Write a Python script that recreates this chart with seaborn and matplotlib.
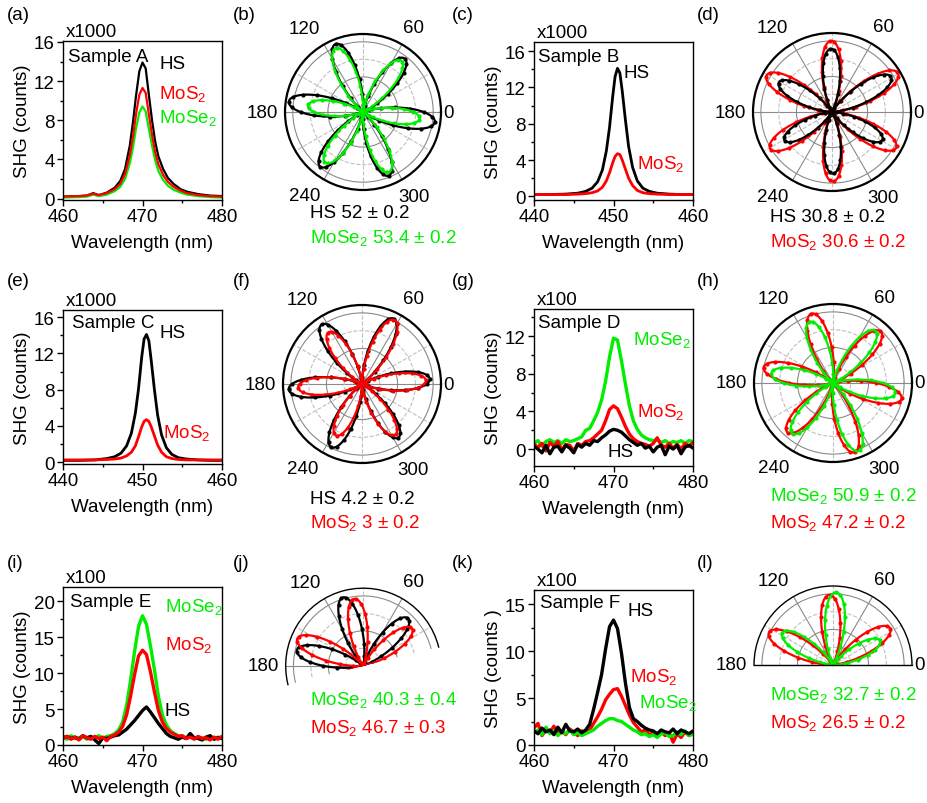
import numpy as np
import matplotlib
matplotlib.use('Agg')
import matplotlib.pyplot as plt
import seaborn as sns
from matplotlib.ticker import MultipleLocator, FixedLocator

sns.set_style('ticks')
plt.rcParams['font.family'] = ['Liberation Sans', 'DejaVu Sans']
plt.rcParams['mathtext.fontset'] = 'custom'
plt.rcParams['mathtext.rm'] = 'Liberation Sans'
plt.rcParams['mathtext.it'] = 'Liberation Sans:italic'
plt.rcParams['mathtext.bf'] = 'Liberation Sans:bold'
for key in ('text.color', 'axes.labelcolor', 'xtick.color', 'ytick.color', 'axes.edgecolor'):
    plt.rcParams[key] = 'black'

BLACK, RED, GREEN = '#000000', '#ff0000', '#00ee00'
FS = 13.5
MOS2 = r'MoS$_\mathrm{2}$'
MOSE2 = r'MoSe$_\mathrm{2}$'

# ---------------- spectra data ----------------
wl_A = [460, 462, 463, 463.8, 464.5, 465.5, 466.5, 467.2, 467.8, 468.4, 468.8, 469.2, 469.6, 470.0,
        470.4, 470.8, 471.2, 471.6, 472.0, 472.6, 473.2, 473.9, 474.8, 475.6, 477, 478.5, 480]
hs_A = [0.2, 0.25, 0.3, 0.55, 0.35, 0.6, 1.1, 1.8, 3.0, 5.4, 7.8, 10.6, 13.0, 13.9,
        13.3, 10.6, 8.0, 5.8, 4.3, 3.0, 2.1, 1.5, 0.95, 0.7, 0.45, 0.3, 0.25]
mos2_A = [0.2, 0.25, 0.3, 0.5, 0.35, 0.55, 0.95, 1.5, 2.5, 4.4, 6.3, 8.7, 10.6, 11.3,
          10.8, 8.6, 6.5, 4.7, 3.5, 2.4, 1.7, 1.2, 0.8, 0.55, 0.35, 0.25, 0.2]
mose2_A = [0.1, 0.15, 0.2, 0.4, 0.25, 0.4, 0.75, 1.2, 2.0, 3.6, 5.2, 7.2, 8.8, 9.4,
           8.9, 7.1, 5.4, 3.9, 2.8, 1.9, 1.3, 0.9, 0.6, 0.4, 0.25, 0.15, 0.1]

wl_B = [440, 442, 444, 445.5, 446.5, 447.3, 448, 448.6, 449.1, 449.5, 449.9, 450.2, 450.5,
        450.8, 451.1, 451.5, 451.9, 452.4, 453, 453.7, 454.5, 455.5, 457, 458.5, 460]
hs_B = [0.2, 0.2, 0.25, 0.35, 0.55, 0.9, 1.6, 2.9, 5.0, 7.6, 11.0, 13.2, 14.1,
        13.6, 11.6, 8.4, 5.5, 3.2, 1.7, 0.9, 0.55, 0.35, 0.25, 0.2, 0.2]
mos2_B = [0.2, 0.2, 0.2, 0.25, 0.3, 0.4, 0.6, 1.0, 1.7, 2.6, 3.7, 4.4, 4.7,
          4.6, 4.0, 3.0, 2.0, 1.2, 0.65, 0.4, 0.3, 0.25, 0.2, 0.2, 0.2]

wl_C = [440, 442, 444, 445.5, 446.5, 447.3, 448, 448.6, 449.1, 449.5, 449.9, 450.2, 450.5,
        450.8, 451.1, 451.5, 451.9, 452.4, 453, 453.7, 454.5, 455.5, 457, 458.5, 460]
hs_C = [0.2, 0.2, 0.25, 0.4, 0.6, 1.0, 1.8, 3.2, 5.4, 8.1, 11.6, 13.6, 14.1,
        13.4, 11.2, 8.0, 5.2, 3.0, 1.6, 0.85, 0.5, 0.35, 0.25, 0.2, 0.2]
mos2_C = [0.25, 0.25, 0.25, 0.3, 0.35, 0.45, 0.7, 1.1, 1.8, 2.8, 3.9, 4.5, 4.7,
          4.5, 3.9, 2.9, 1.9, 1.1, 0.6, 0.4, 0.3, 0.25, 0.25, 0.25, 0.25]

wl_noisy = np.arange(460, 480.01, 0.5)   # 41 sampling wavelengths (nm)

mose2_D = [0.6, 0.9, 0.3, 0.8, 1.0, 0.7, 0.9, 0.6, 1.0, 0.8, 0.9, 1.1, 1.3, 2.0, 2.2, 3.0, 3.9,
           5.2, 7.2, 9.8, 11.8, 11.6, 9.4, 6.9, 4.6, 3.0, 2.1, 1.5, 1.2, 1.0, 0.9, 1.0, 0.7,
           0.9, 0.6, 0.8, 0.7, 0.9, 0.6, 0.9, 0.8]
mos2_D = [0.5, 0.2, 0.6, -0.2, 0.7, 0.3, 0.8, -0.1, 0.5, 0.4, -0.2, 0.6, 0.4, 0.8, 0.9, 1.2, 1.6,
          2.0, 3.0, 4.2, 4.6, 4.3, 3.4, 2.4, 1.6, 1.1, 0.8, 0.6, 0.5, 0.3, 0.6, 1.2, 0.4,
          0.2, 0.6, 0.1, 0.5, 0.0, 0.6, 0.3, 0.7]
hs_D = [0.3, 0.0, -0.4, 0.4, -0.5, 0.2, 0.3, -0.3, 0.4, 0.1, -0.4, 0.5, 0.2, 0.6, 0.4, 0.9, 0.8,
        1.2, 1.5, 1.9, 2.1, 2.0, 1.8, 1.4, 1.0, 0.7, 0.4, 0.6, 0.1, 0.3, -0.3, 0.2, 0.4,
        -0.6, 0.3, 0.0, 0.4, -0.5, 0.2, 0.4, 0.1]

mose2_E = [1.1, 0.8, 1.3, 0.9, 1.0, 1.2, 0.8, 1.1, 1.0, 1.3, 0.9, 1.2, 1.3, 1.6, 2.1, 3.2, 5.5,
           9.0, 13.0, 16.5, 18.0, 16.8, 13.8, 10.5, 6.8, 4.2, 2.8, 2.0, 1.6, 1.3, 1.2, 1.0, 1.3,
           0.9, 1.1, 1.0, 0.8, 1.2, 0.9, 1.1, 1.0]
mos2_E = [0.9, 1.2, 0.8, 1.1, 0.7, 1.3, 1.0, 0.8, 1.2, 0.9, 1.1, 0.6, 1.2, 1.4, 1.8, 2.6, 4.2,
          6.8, 9.8, 12.4, 13.2, 12.6, 10.2, 7.4, 4.8, 3.2, 2.3, 1.8, 1.5, 1.2, 1.3, 0.9, 1.1,
          0.8, 1.2, 0.9, 1.0, 0.7, 1.1, 0.8, 1.2]
hs_E = [1.0, 1.2, 0.9, 1.1, 0.8, 1.3, 1.0, 1.2, 0.7, 0.2, 1.0, 0.9, 1.1, 1.3, 1.4, 1.8, 2.2,
        2.8, 3.4, 4.1, 4.8, 5.3, 4.6, 3.8, 3.0, 2.3, 1.6, 1.2, 1.0, 0.8, 1.1, 0.9, 1.6,
        1.0, 0.9, 0.7, 1.1, 1.3, 0.8, 1.0, 0.9]

hs_F = [1.5, 1.2, 1.8, 1.4, 1.6, 1.1, 1.9, 1.3, 2.2, 1.5, 1.4, 1.7, 1.3, 1.6, 2.2, 3.8, 5.6,
        7.5, 10.2, 12.6, 13.3, 12.4, 9.8, 6.6, 4.0, 2.8, 2.5, 2.1, 1.8, 1.6, 1.5, 1.2, 1.6,
        1.4, 1.3, 1.7, 1.2, 1.6, 1.4, 1.2, 1.5]
mos2_F = [1.8, 2.3, 1.0, 1.6, 1.3, 2.0, 1.2, 1.5, 1.1, 1.7, 1.4, 1.0, 1.5, 1.3, 1.6, 2.3, 3.0,
          3.8, 4.8, 5.4, 5.9, 6.0, 5.2, 4.2, 3.2, 2.4, 1.9, 1.4, 1.6, 1.1, 1.3, 0.9, 1.4,
          1.0, 1.3, 0.3, 1.2, 0.8, 1.4, 1.0, 1.2]
mose2_F = [1.3, 1.6, 1.1, 1.9, 1.2, 1.5, 1.0, 1.4, 1.2, 1.6, 1.1, 1.3, 1.0, 1.2, 1.4, 1.6, 2.0,
           2.3, 2.6, 2.8, 2.8, 2.6, 2.5, 2.2, 1.9, 1.6, 1.4, 1.1, 1.2, 0.9, 1.1, 0.8, 1.2,
           1.3, 0.9, 1.0, 1.4, 1.1, 1.5, 1.0, 1.2]

# ---------------- polar data (orientation angle in deg, lobe amplitudes) ----------------
b_hs_phi, b_hs_amp = 52.0, [0.87, 0.94, 0.96, 0.89, 0.88, 0.93]
b_se_phi, b_se_amp = 53.4, [0.82, 0.89, 0.71, 0.81, 0.84, 0.73]
d_hs_phi, d_hs_amp = 30.8, [0.87, 0.80, 0.77, 0.70, 0.78, 0.73]
d_s_phi, d_s_amp = 30.6, [0.97, 0.90, 0.95, 0.91, 0.88, 0.93]
f_hs_phi, f_hs_amp = 4.2, [0.86, 0.92, 0.91, 0.93, 0.89, 0.82]
f_s_phi, f_s_amp = 3.0, [0.81, 0.91, 0.78, 0.81, 0.73, 0.77]
h_s_phi, h_s_amp = 47.2, [0.89, 0.92, 0.90, 0.85, 0.92, 0.89]
h_se_phi, h_se_amp = 50.9, [0.85, 0.83, 0.79, 0.82, 0.92, 0.80]
j_k_phi, j_k_amp = 46.7, [0.84, 0.92, 0.88, 0.90, 0.90, 0.90]
j_r_phi, j_r_amp = 37.6, [0.79, 0.87, 0.92, 0.90, 0.90, 0.90]
l_r_phi, l_r_amp = 33.0, [0.86, 0.89, 0.91, 0.90, 0.90, 0.90]
l_g_phi, l_g_amp = 27.5, [0.67, 0.92, 0.76, 0.80, 0.80, 0.80]

# angle tick labels of the polar panels and where their centres sit (angle, radius)
theta_labels = ['0', '60', '120', '180', '240', '300']
theta_label_pos = {'0': (0, 1.09), '60': (59, 1.26), '120': (125, 1.31), '180': (180, 1.29),
                   '240': (235, 1.31), '300': (301, 1.26)}

# ---------------- layout helpers ----------------
W, H = 928, 804
fig = plt.figure(figsize=(W / 100, H / 100), dpi=100)


def frac_rect(l, t, r, b):
    return [l / W, 1 - b / H, (r - l) / W, (b - t) / H]


def ftext(x, y, s, color='k', **kw):
    fig.text(x / W, 1 - y / H, s, color=color, fontsize=FS, ha='left', va='center', **kw)


def spectrum(box, xlim, ylim, xmaj, ymaj, ymin, scale, series, labels, ylabel='SHG (counts)'):
    ax = fig.add_axes(frac_rect(*box))
    for x, y, c, lw in series:
        sns.lineplot(x=np.asarray(x, float), y=np.asarray(y, float), color=c, lw=lw, ax=ax,
                     estimator=None, sort=False)
    ax.set_xlim(*xlim)
    ax.set_ylim(*ylim)
    ax.xaxis.set_major_locator(MultipleLocator(xmaj))
    ax.xaxis.set_minor_locator(MultipleLocator(xmaj / 2))
    ax.yaxis.set_major_locator(MultipleLocator(ymaj))
    ax.yaxis.set_minor_locator(MultipleLocator(ymin))
    ax.tick_params(which='major', direction='out', length=4, width=1, labelsize=FS, pad=2,
                   colors='black')
    ax.tick_params(which='minor', direction='out', length=2.5, width=1, colors='black')
    for s in ax.spines.values():
        s.set_visible(True)
        s.set_linewidth(1.0)
        s.set_color('k')
    ax.set_xlabel('Wavelength (nm)', fontsize=FS, labelpad=6, color='black')
    ax.set_ylabel(ylabel, fontsize=FS, labelpad=2, color='black')
    ax.text(0.02, 1.005, scale, transform=ax.transAxes, fontsize=FS, ha='left', va='bottom')
    for x, y, s, c in labels:
        ax.text(x, y, s, color=c, fontsize=FS, ha='left', va='center')
    return ax


def rose(theta_deg, phi, amps):
    rel = (theta_deg - phi) % 360
    k = np.round(rel / 60).astype(int) % 6
    return np.asarray(amps)[k] * np.cos(np.deg2rad(3 * rel)) ** 2


theta_line = np.arange(0, 360.5, 0.5)
theta_pts = np.arange(0, 360, 4.0)


def polar(cx, cy, R, series, t0=0, t1=360, hide_ends=False, outer_lw=1.6):
    a = np.deg2rad(np.linspace(t0, t1, 1441))
    xs = np.concatenate([[0], np.cos(a)])
    ys = np.concatenate([[0], np.sin(a)])
    x0, x1, y0, y1 = xs.min(), xs.max(), ys.min(), ys.max()
    side = max(x1 - x0, y1 - y0)
    mx, my = (x0 + x1) / 2, (y0 + y1) / 2
    left = cx + (mx - side / 2) * R
    top = cy - (my + side / 2) * R
    ax = fig.add_axes(frac_rect(left, top, left + side * R, top + side * R), projection='polar')
    for phi, amp, c in series:
        r_line = rose(theta_line, phi, amp)
        r_pts = rose(theta_pts, phi, amp)
        sns.lineplot(x=np.deg2rad(theta_line), y=r_line, color=c, lw=1.6, ax=ax,
                     estimator=None, sort=False)
        sns.scatterplot(x=np.deg2rad(theta_pts), y=r_pts, color=c, s=9, linewidth=0, ax=ax)
    ax.set_thetamin(t0)
    ax.set_thetamax(t1)
    ax.set_rlim(0, 1)
    major = [m for m in range(0, 360, 60) if t0 <= m <= t1]
    minor = [m for m in range(30, 360, 60) if t0 <= m <= t1]
    ax.set_xticks(np.deg2rad(major))
    ax.set_xticklabels([])
    ax.xaxis.set_minor_locator(FixedLocator(np.deg2rad(minor)))
    ax.set_yticks([0.45, 0.9])
    ax.set_yticklabels([])
    ax.yaxis.set_minor_locator(FixedLocator([0.225, 0.675]))
    ax.grid(True, which='major', color='#8a8a8a', lw=0.8, ls='-')
    ax.grid(True, which='minor', color='#c0c0c0', lw=0.8, ls='--')
    ax.tick_params(axis='x', which='both', direction='in', length=4, width=1, colors='k')
    ax.tick_params(axis='y', which='both', length=0)
    ax.set_xlabel('')
    ax.set_ylabel('')
    for lab in theta_labels:
        ang, rr = theta_label_pos[lab]
        if t0 <= int(lab) <= t1:
            ax.text(np.deg2rad(ang), rr, lab, fontsize=FS, ha='center', va='center',
                    clip_on=False)
    ax.spines['polar'].set_linewidth(outer_lw)
    ax.spines['polar'].set_color('k')
    for k in ('start', 'end'):
        if k in ax.spines:
            if hide_ends:
                ax.spines[k].set_color('none')
                ax.spines[k].set_linewidth(0)
            else:
                ax.spines[k].set_linewidth(1.0)
                ax.spines[k].set_color('k')
    return ax


# ---------------- spectra panels ----------------
spectrum((63, 42, 222, 201), (460, 480), (-0.15, 16.1), 10, 4, 2, 'x1000',
         [(wl_A, hs_A, BLACK, 1.6), (wl_A, mose2_A, GREEN, 1.6), (wl_A, mos2_A, RED, 1.6)],
         [(460.6, 14.5, 'Sample A', BLACK), (472.2, 13.8, 'HS', BLACK),
          (472.1, 10.8, MOS2, RED), (472.1, 8.3, MOSE2, GREEN)])

spectrum((534, 43, 693, 201), (440, 460), (-0.4, 17.0), 10, 4, 2, 'x1000',
         [(wl_B, hs_B, BLACK, 2.0), (wl_B, mos2_B, RED, 2.0)],
         [(440.5, 15.4, 'Sample B', BLACK), (451.3, 13.6, 'HS', BLACK), (453.0, 3.7, MOS2, RED)])

spectrum((63, 311, 222, 465), (440, 460), (-0.2, 16.8), 10, 4, 2, 'x1000',
         [(wl_C, hs_C, BLACK, 2.0), (wl_C, mos2_C, RED, 2.0)],
         [(441.1, 15.4, 'Sample C', BLACK), (452.1, 14.3, 'HS', BLACK), (452.6, 3.3, MOS2, RED)])

spectrum((534, 310, 693, 467), (460, 480), (-1.8, 14.9), 10, 4, 2, 'x100',
         [(wl_noisy, mose2_D, GREEN, 2.4), (wl_noisy, mos2_D, RED, 2.4), (wl_noisy, hs_D, BLACK, 2.4)],
         [(460.5, 13.5, 'Sample D', BLACK), (472.5, 11.7, MOSE2, GREEN),
          (473.0, 4.0, MOS2, RED), (469.3, -0.3, 'HS', BLACK)])

spectrum((63, 588, 222, 746), (460, 480), (0, 22.0), 10, 5, 2.5, 'x100',
         [(wl_noisy, mose2_E, GREEN, 2.4), (wl_noisy, hs_E, BLACK, 2.4), (wl_noisy, mos2_E, RED, 2.4)],
         [(460.9, 20.0, 'Sample E', BLACK), (472.8, 19.3, MOSE2, GREEN),
          (472.8, 14.0, MOS2, RED), (472.8, 4.8, 'HS', BLACK)])

spectrum((534, 591, 693, 746), (460, 480), (0, 16.5), 10, 5, 2.5, 'x100',
         [(wl_noisy, mos2_F, RED, 2.4), (wl_noisy, mose2_F, GREEN, 2.4), (wl_noisy, hs_F, BLACK, 2.4)],
         [(460.75, 15.2, 'Sample F', BLACK), (471.8, 14.3, 'HS', BLACK),
          (472.1, 7.3, MOS2, RED), (473.2, 4.6, MOSE2, GREEN)],
         ylabel='SHG (counts )')

# ---------------- polar panels ----------------
polar(363, 113, 78, [(b_hs_phi, b_hs_amp, BLACK), (b_se_phi, b_se_amp, GREEN)])
polar(832, 113, 79, [(d_s_phi, d_s_amp, RED), (d_hs_phi, d_hs_amp, BLACK)])
polar(362, 385, 79, [(f_hs_phi, f_hs_amp, BLACK), (f_s_phi, f_s_amp, RED)])
polar(833, 384, 79, [(h_s_phi, h_s_amp, RED), (h_se_phi, h_se_amp, GREEN)])
polar(362, 666, 79, [(j_k_phi, j_k_amp, BLACK), (j_r_phi, j_r_amp, RED)], t0=14, t1=194,
      hide_ends=True, outer_lw=1.0)
polar(833, 666, 79, [(l_r_phi, l_r_amp, RED), (l_g_phi, l_g_amp, GREEN)], t0=0, t1=180,
      outer_lw=1.0)

# ---------------- polar annotations ----------------
ftext(310, 213, 'HS 52 ± 0.2', BLACK)
ftext(310, 238, MOSE2 + ' 53.4 ± 0.2', GREEN)
ftext(770, 218, 'HS 30.8 ± 0.2', BLACK)
ftext(770, 242, MOS2 + ' 30.6 ± 0.2', RED)
ftext(310, 500, 'HS 4.2 ± 0.2', BLACK)
ftext(310, 523, MOS2 + ' 3 ± 0.2', RED)
ftext(770, 496, MOSE2 + ' 50.9 ± 0.2', GREEN)
ftext(770, 523, MOS2 + ' 47.2 ± 0.2', RED)
ftext(310, 700, MOSE2 + ' 40.3 ± 0.4', GREEN)
ftext(310, 728, MOS2 + ' 46.7 ± 0.3', RED)
ftext(770, 695, MOSE2 + ' 32.7 ± 0.2', GREEN)
ftext(770, 723, MOS2 + ' 26.5 ± 0.2', RED)

# ---------------- panel letters ----------------
for lab, x, y in [('(a)', 7, 15), ('(b)', 233, 15), ('(c)', 452, 15), ('(d)', 697, 15),
                  ('(e)', 7, 281), ('(f)', 233, 281), ('(g)', 452, 281), ('(h)', 697, 281),
                  ('(i)', 7, 564), ('(j)', 233, 564), ('(k)', 452, 564), ('(l)', 697, 564)]:
    ftext(x, y, lab, BLACK)

fig.savefig('out.png', dpi=100)
